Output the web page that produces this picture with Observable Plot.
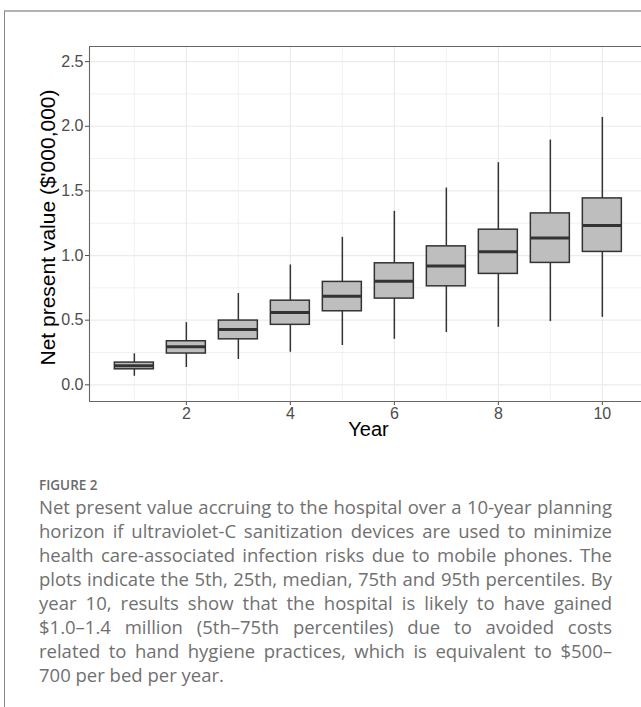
<!DOCTYPE html>
<html>
<head>
<meta charset="utf-8">
<script src="https://cdn.jsdelivr.net/npm/d3@7"></script>
<script src="https://cdn.jsdelivr.net/npm/@observablehq/plot@0.6"></script>
<style>
  html, body { margin: 0; padding: 0; background: #fff; overflow: hidden; }
  #page { position: relative; width: 641px; height: 707px; overflow: hidden; background: #fff; }
  #chart { position: absolute; left: 0; top: 0; }
  #chart svg g[aria-label="x-axis"], #chart svg g[aria-label="y-axis"],
  #chart svg g[aria-label="x-axis tick label"], #chart svg g[aria-label="y-axis tick label"] {
    font-size: 16px; font-family: "Liberation Sans", Arial, sans-serif;
  }
  #frame { position: absolute; left: 4px; top: 10px; width: 800px; height: 800px;
           border-top: 2px solid #b3b3b3; border-left: 1px solid #8a8a8a; pointer-events: none; }
  #fig { position: absolute; left: 39px; top: 477px; font-family: "Open Sans", sans-serif;
         font-size: 13.5px; line-height: 16px; font-weight: 600; color: #6a6a6a; }
  #cap { position: absolute; left: 39px; top: 495px; width: 573px; font-family: "Open Sans", sans-serif;
         font-size: 18.5px; line-height: 24px; color: #707070; }
  #cap div { text-align: justify; text-align-last: justify; white-space: nowrap; }
  #cap div.last { text-align-last: left; }
</style>
</head>
<body>
<div id="page">
  <div id="chart"></div>
  <div id="frame"></div>
  <div id="fig"></div>
  <div id="cap"></div>
</div>
<script>
// ---- data ----
const years   = [1, 2, 3, 4, 5, 6, 7, 8, 9, 10];
const p5      = [0.066, 0.134, 0.196, 0.252, 0.304, 0.352, 0.404, 0.445, 0.489, 0.522];
const p25     = [0.120, 0.242, 0.352, 0.464, 0.569, 0.667, 0.762, 0.858, 0.943, 1.028];
const medians = [0.147, 0.294, 0.427, 0.559, 0.685, 0.801, 0.920, 1.030, 1.136, 1.233];
const p75     = [0.172, 0.337, 0.497, 0.651, 0.796, 0.940, 1.071, 1.200, 1.326, 1.442];
const p95     = [0.240, 0.481, 0.706, 0.927, 1.141, 1.342, 1.522, 1.718, 1.893, 2.068];

const yTicks  = [0, 0.5, 1, 1.5, 2, 2.5];
const yMinor  = [0.25, 0.75, 1.25, 1.75, 2.25];
const xTicks  = [2, 4, 6, 8, 10];
const xMinor  = [1, 3, 5, 7, 9];

const xTitle = "Year";
const yTitle = "Net present value ($'000,000)";
const figLabel = "FIGURE 2";
const captionLines = [
  "Net present value accruing to the hospital over a 10-year planning",
  "horizon if ultraviolet-C sanitization devices are used to minimize",
  "health care-associated infection risks due to mobile phones. The",
  "plots indicate the 5th, 25th, median, 75th and 95th percentiles. By",
  "year 10, results show that the hospital is likely to have gained",
  "$1.0\u20131.4 million (5th\u201375th percentiles) due to avoided costs",
  "related to hand hygiene practices, which is equivalent to $500\u2013",
  "700 per bed per year."
];

// ---- build table ----
const rows = years.map((year, i) => ({
  year, lo: p5[i], q1: p25[i], med: medians[i], q3: p75[i], hi: p95[i]
}));
const half = 0.375; // half box width in year units

const xDomain = [0.1375, 10.753];
const yDomain = [-0.129, 2.617];

const plot = Plot.plot({
  width: 641,
  height: 450,
  marginLeft: 89,
  marginRight: 0,
  marginTop: 46,
  marginBottom: 49,
  style: {
    fontFamily: "'Liberation Sans', Arial, sans-serif",
    fontSize: "16px",
    color: "#4d4d4d",
    background: "transparent",
    overflow: "visible"
  },
  x: { domain: xDomain, ticks: xTicks, tickSize: 4, tickPadding: 2, tickFormat: d => String(d), label: null },
  y: { domain: yDomain, ticks: yTicks, tickSize: 4, tickPadding: 2, tickFormat: d => d.toFixed(1), label: null },
  marks: [
    // minor grid
    Plot.ruleY(yMinor, { stroke: "#ebebeb", strokeWidth: 0.7 }),
    Plot.ruleX(xMinor, { stroke: "#ebebeb", strokeWidth: 0.7 }),
    // major grid
    Plot.ruleY(yTicks, { stroke: "#ebebeb", strokeWidth: 1.2 }),
    Plot.ruleX(xTicks, { stroke: "#ebebeb", strokeWidth: 1.2 }),
    // whiskers
    Plot.ruleX(rows, { x: "year", y1: "lo", y2: "hi", stroke: "#333", strokeWidth: 1.5 }),
    // boxes
    Plot.rect(rows, {
      x1: d => d.year - half, x2: d => d.year + half, y1: "q1", y2: "q3",
      fill: "#bebebe", stroke: "#333", strokeWidth: 1.5
    }),
    // medians
    Plot.ruleY(rows, { y: "med", x1: d => d.year - half, x2: d => d.year + half, stroke: "#333", strokeWidth: 3 }),
    // panel border (right side is cut off by the image edge)
    Plot.ruleX([xDomain[0]], { stroke: "#666", strokeWidth: 1.1 }),
    Plot.ruleY([yDomain[0], yDomain[1]], { stroke: "#666", strokeWidth: 1.1 }),
    // axis titles
    Plot.text([yTitle], { frameAnchor: "left", textAnchor: "middle", rotate: -90, dx: -41.5, dy: 3.5, fontSize: 21, fill: "black" }),
    Plot.text([xTitle], { frameAnchor: "bottom", textAnchor: "middle", dy: 34, dx: 3, fontSize: 20, fill: "black" })
  ]
});
document.getElementById("chart").appendChild(plot);

document.getElementById("fig").textContent = figLabel;
const cap = document.getElementById("cap");
captionLines.forEach((t, i) => {
  const div = document.createElement("div");
  div.textContent = t;
  if (i === captionLines.length - 1) div.className = "last";
  cap.appendChild(div);
});
</script>
</body>
</html>
